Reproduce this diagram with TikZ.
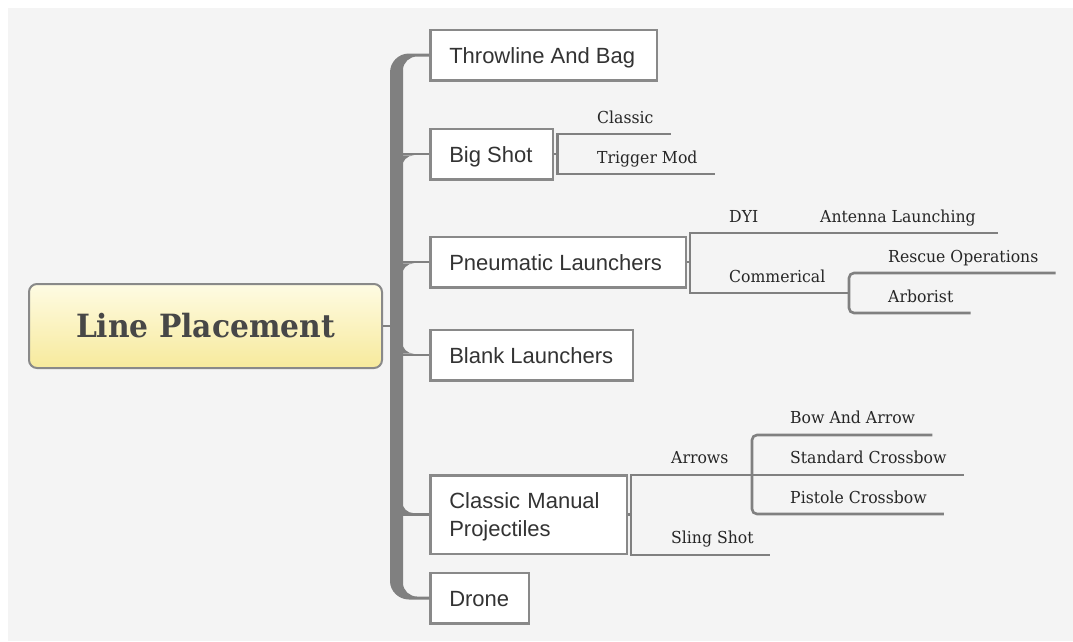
\documentclass[tikz,border=0pt]{standalone}
\usepackage{fontspec}
\setmainfont{Liberation Sans}
\newfontfamily\slab[FakeStretch=0.95]{DejaVu Serif}
\newfontfamily\rootface[FakeStretch=0.93]{DejaVu Serif}
\definecolor{canvas}{HTML}{F4F4F4}
\definecolor{wirecol}{HTML}{808080}
\definecolor{boxline}{HTML}{898989}
\definecolor{ink}{HTML}{333333}
\definecolor{leafink}{HTML}{262626}
\definecolor{rootink}{HTML}{474747}
\definecolor{roottop}{HTML}{FEFBE3}
\definecolor{rootbot}{HTML}{F7EA9C}

% concave fillets where a branch leaves the trunk
\newcommand\filletbelow[1]{\fill[wirecol] (#1) ++(0,1.3) -- ++(0,12) .. controls +(0,-6.6) and +(-6.6,0) .. ++(12,-12) -- cycle;}
\newcommand\filletabove[1]{\fill[wirecol] (#1) ++(0,-1.3) -- ++(0,-12) .. controls +(0,6.6) and +(-6.6,0) .. ++(12,12) -- cycle;}
% a single topic line set in a box of fixed width
\newcommand\topicline[2]{\makebox[#1][l]{#2}}

\begin{document}
\begin{tikzpicture}[x=1pt,y=-1pt,
  topic/.style={draw=boxline, line width=2.5pt, fill=white, anchor=west,
    inner xsep=18.75pt, inner ysep=0pt, minimum height=50.5pt,
    text height=16pt, text depth=0pt,
    font=\fontsize{22}{28}\selectfont, text=ink},
  leaf/.style={anchor=base west, inner sep=0pt,
    font=\slab\fontsize{16.5}{18}\selectfont, text=leafink},
  wire/.style={draw=wirecol, line width=2.6pt},
  rootbox/.style={draw=boxline, line width=2pt, rounded corners=8pt,
    top color=roottop, bottom color=rootbot,
    minimum width=353pt, minimum height=84pt, inner sep=0pt,
    text height=23.3pt, text depth=0pt,
    font=\rootface\bfseries\fontsize{32}{36}\selectfont, text=rootink}]

% canvas
\fill[white] (0,0) rectangle (1073,641);
\fill[canvas] (8,8) rectangle (1073,641);
\useasboundingbox (0,0) rectangle (1073,641);

% central topic
\node[rootbox] (root) at (205.5,326) {Line Placement};

% main topics
\node[topic] (throw)   at (429.25,55)  {\topicline{189pt}{Throwline And Bag}};
\node[topic] (bigshot) at (429.25,154) {\topicline{85pt}{Big Shot}};
\node[topic] (pneu)    at (429.25,262) {\topicline{218pt}{Pneumatic Launchers}};
\node[topic] (blank)   at (429.25,355) {\topicline{165pt}{Blank Launchers}};
\node[topic, text width=159pt, align=left, minimum height=78.5pt, text depth=28pt] (cmp)
  at (429.25,514.5) {Classic Manual\\Projectiles};
\node[topic] (drone)   at (429.25,598) {\topicline{61pt}{Drone}};

% trunk, bending into the first and last topic
\fill[wirecol] (throw.west) ++(0,-1.5) -- (409,53.5)
  .. controls (398.5,53.5) and (390,62) .. (390,72.5) -- (390,581)
  .. controls (390,591) and (398.5,599.5) .. (409,599.5) -- ([yshift=-1.5pt]drone.west)
  -- ([yshift=1.5pt]drone.west) -- (417,596.5)
  .. controls (409.5,596.5) and (403,590.5) .. (403,583) -- (403,70)
  .. controls (403,62.5) and (409.5,56.5) .. (417,56.5) -- ([yshift=-1.5pt]throw.west) -- cycle;

\coordinate (trunkR) at (402,0);
\coordinate (trunkL) at (391,0);
\draw[wire] (root.east) -- (root.east -| trunkL);
\foreach \t in {bigshot,pneu,blank,cmp}
  \draw[wire] (\t.west) -- (\t.west -| trunkR);
\filletbelow{bigshot.west -| trunkR}
\filletbelow{pneu.west -| trunkR}
\filletabove{blank.west -| trunkR}
\filletabove{cmp.west -| trunkR}

% Big Shot
\node[leaf] (classic) at (597,123) {Classic};
\node[leaf] (trigger) at (597,163) {Trigger Mod};
\coordinate (bsfork) at (557.5,154);
\draw[wire] (bigshot.east) -- (bsfork);
\draw[wire] ([xshift=17pt,yshift=-11pt]classic.base east) -| (bsfork)
  |- ([xshift=17pt,yshift=-11pt]trigger.base east);

% Pneumatic Launchers
\node[leaf] (dyi)       at (729,222) {DYI};
\node[leaf] (antenna)   at (820,222) {Antenna Launching};
\node[leaf] (commer)    at (729,282) {Commerical};
\node[leaf] (rescue)    at (888,262) {Rescue Operations};
\node[leaf] (arborist)  at (888,302) {Arborist};
\coordinate (pnfork) at (690,262);
\coordinate (cmfork) at (849,293);
\draw[wire] (pneu.east) -- (pnfork);
\draw[wire] ([xshift=22pt,yshift=-11pt]antenna.base east) -| (pnfork) |- (cmfork);
\draw[wire, rounded corners=5pt] ([xshift=17pt,yshift=-11pt]rescue.base east) -| (cmfork)
  |- ([xshift=17pt,yshift=-11pt]arborist.base east);

% Classic Manual Projectiles
\node[leaf] (arrows)   at (671,463) {Arrows};
\node[leaf] (sling)    at (671,543) {Sling Shot};
\node[leaf] (bow)      at (790,423) {Bow And Arrow};
\node[leaf] (standard) at (790,463) {Standard Crossbow};
\node[leaf] (pistole)  at (790,503) {Pistole Crossbow};
\coordinate (cpfork) at (631,514.5);
\coordinate (arfork) at (752,475);
\draw[wire] (cmp.east) -- (cpfork);
\draw[wire] ([xshift=17pt,yshift=-12pt]standard.base east) -| (cpfork)
  |- ([xshift=16pt,yshift=-12pt]sling.base east);
\draw[wire, rounded corners=5pt] ([xshift=17pt,yshift=-12pt]bow.base east) -| (arfork)
  |- ([xshift=17pt,yshift=-11pt]pistole.base east);
\end{tikzpicture}
\end{document}
